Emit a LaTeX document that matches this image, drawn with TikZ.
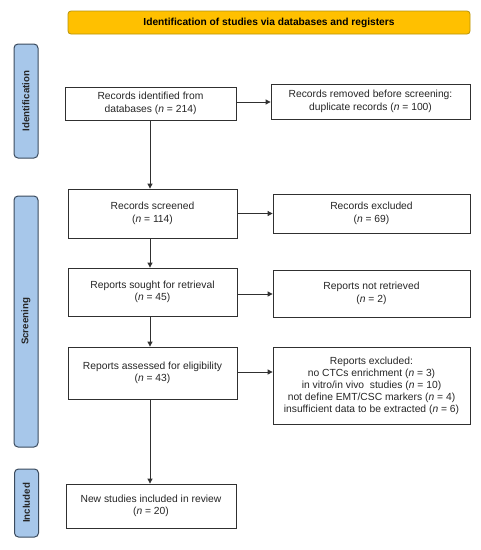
\documentclass[tikz,border=0pt]{standalone}
\usepackage{fontspec}
\setmainfont{Liberation Sans}
\usetikzlibrary{arrows.meta}
\definecolor{bannerfill}{HTML}{FFC000}
\definecolor{bannerdraw}{HTML}{B8940A}
\definecolor{sidefill}{HTML}{A7C7EA}
\definecolor{sidedraw}{HTML}{3B4B5E}
\definecolor{linec}{HTML}{303030}
\tikzset{
  box/.style={draw=linec, line width=0.8pt, fill=white, inner sep=0pt, align=center, text=black!85, font=\fontsize{10.3}{12.6}\selectfont},
  banner/.style={draw=bannerdraw, fill=bannerfill, line width=0.8pt, rounded corners=3pt, inner sep=0pt, font=\bfseries\fontsize{10.2}{12}\selectfont},
  side/.style={draw=sidedraw, fill=sidefill, line width=1pt, rounded corners=4pt, inner sep=0pt},
  sidetext/.style={rotate=90, font=\bfseries\fontsize{9.7}{11}\selectfont, text=black!85},
  arr/.style={draw=linec, line width=0.8pt, -{Triangle[length=5pt,width=5pt]}}
}
\begin{document}
\begin{tikzpicture}[x=1pt,y=-1pt]
\useasboundingbox (0,0) rectangle (481,550);
\node[banner, minimum width=402pt, minimum height=23pt] (ban) at (269,22.5) {Identification of studies via databases and registers};
\node[side, minimum width=24pt, minimum height=114pt] (sid) at (26,101) {};
\node[sidetext] (tid) at (sid.center) {Identification};
\node[side, minimum width=24pt, minimum height=251pt] (ssc) at (26,321.5) {};
\node[sidetext] (tsc) at (ssc.center) {Screening};
\node[side, minimum width=24pt, minimum height=68pt] (sin) at (26.5,503) {};
\node[sidetext] (tin) at (sin.center) {Included};

\node[box, minimum width=171pt, minimum height=33pt] (b1) at (150.5,103.5) {Records identified from\\databases (\textit{n} = 214)};
\node[box, minimum width=199pt, minimum height=35pt] (r1) at (370.5,101.5) {Records removed before screening:\\duplicate records (\textit{n} = 100)};
\node[box, minimum width=169pt, minimum height=49pt] (b2) at (152.5,213.5) {Records screened\\(\textit{n} = 114)};
\node[box, minimum width=197pt, minimum height=39pt] (r2) at (371.5,213.5) {Records excluded\\(\textit{n} = 69)};
\node[box, minimum width=169pt, minimum height=48pt] (b3) at (152.5,292) {Reports sought for retrieval\\(\textit{n} = 45)};
\node[box, minimum width=197pt, minimum height=47pt] (r3) at (371.5,293.5) {Reports not retrieved\\(\textit{n} = 2)};
\node[box, minimum width=169pt, minimum height=52pt] (b4) at (152.5,373) {Reports assessed for eligibility\\(\textit{n} = 43)};
\node[box, minimum width=197pt, minimum height=77pt, font=\fontsize{10.3}{12}\selectfont] (r4) at (371.5,385.5) {Reports excluded:\\no CTCs enrichment (\textit{n} = 3)\\in vitro/in vivo\ \ studies (\textit{n} = 10)\\not define EMT/CSC markers (\textit{n} = 4)\\insufficient data to be extracted (\textit{n} = 6)};
\node[box, minimum width=170pt, minimum height=44pt] (b5) at (151,506) {New studies included in review\\(\textit{n} = 20)};

\draw[arr] (b1.east |- 0,102) -- (r1.west |- 0,102);
\draw[arr] (b2.east) -- (r2.west |- b2.east);
\draw[arr] (b3.east |- 0,294) -- (r3.west |- 0,294);
\draw[arr] (b4.east |- 0,372) -- (r4.west |- 0,372);
\draw[arr] (b1.south -| 150,0) -- (b2.north -| 150,0);
\draw[arr] (b2.south -| 150,0) -- (b3.north -| 150,0);
\draw[arr] (b3.south -| 150,0) -- (b4.north -| 150,0);
\draw[arr] (b4.south -| 150,0) -- (b5.north -| 150,0);
\end{tikzpicture}
\end{document}
